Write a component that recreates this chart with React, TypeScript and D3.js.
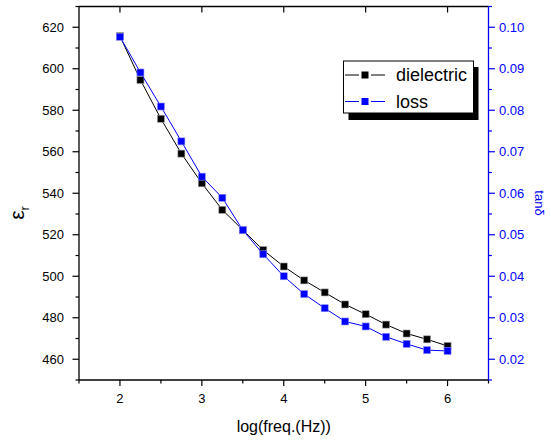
import React from "react";
import * as d3 from "d3";

const logFreq = [2, 2.25, 2.5, 2.75, 3, 3.25, 3.5, 3.75, 4, 4.25, 4.5, 4.75, 5, 5.25, 5.5, 5.75, 6];
const dielectric = [615.7, 594.6, 575.9, 559.1, 544.8, 532.0, 522.3, 512.6, 504.7, 498.0, 492.2, 486.4, 481.7, 476.7, 472.4, 469.6, 466.4];
const loss = [0.0977, 0.0891, 0.0809, 0.0725, 0.064, 0.0589, 0.0511, 0.0453, 0.04, 0.0357, 0.0323, 0.0291, 0.0279, 0.0254, 0.0237, 0.0222, 0.022];
const xTicks = [2, 3, 4, 5, 6];
const xMinor = [1.5, 2.5, 3.5, 4.5, 5.5, 6.5];
const yTicks = [460, 480, 500, 520, 540, 560, 580, 600, 620];
const yMinor = [450, 470, 490, 510, 530, 550, 570, 590, 610, 630];
const rTicks = [0.02, 0.03, 0.04, 0.05, 0.06, 0.07, 0.08, 0.09, 0.1];
const rMinor = [0.015, 0.025, 0.035, 0.045, 0.055, 0.065, 0.075, 0.085, 0.095, 0.105];
const legendItems = ["dielectric", "loss"];

const L = 79, R = 488.5, T = 6.5, B = 380;
const FONT = "'Liberation Sans', Arial, sans-serif";
const BLUE = "#0000ff";

export default function App() {
  const x = d3.scaleLinear().domain([1.5, 6.5]).range([L, R]);
  const y = d3.scaleLinear().domain([450, 630]).range([B, T]);
  const yr = d3.scaleLinear().domain([0.015, 0.105]).range([B, T]);
  const lineD = d3.line<number>().x((_, i) => x(logFreq[i])).y((d) => y(d))(dielectric) || "";
  const lineL = d3.line<number>().x((_, i) => x(logFreq[i])).y((d) => yr(d))(loss) || "";
  const ms = 7;
  const colors = ["#000", BLUE];
  return (
    <div style={{ position: "absolute", left: 0, top: 0 }}>
      <svg width={551} height={440} style={{ display: "block", fontFamily: FONT }}>
        <rect width={551} height={440} fill="#fff" />
        {/* frame */}
        <line x1={L} x2={R} y1={T} y2={T} stroke="#000" strokeWidth={1.3} />
        <line x1={L} x2={R} y1={B} y2={B} stroke="#000" strokeWidth={1.3} />
        <line x1={L} x2={L} y1={T} y2={B} stroke="#000" strokeWidth={1.3} />
        <line x1={R} x2={R} y1={T} y2={B} stroke={BLUE} strokeWidth={1.3} />
        {/* bottom axis */}
        {xTicks.map((t) => (
          <g key={"xt" + t}>
            <line x1={x(t)} x2={x(t)} y1={B} y2={B + 6} stroke="#000" strokeWidth={1.2} />
            <line x1={x(t)} x2={x(t)} y1={T} y2={T + 6} stroke="#000" strokeWidth={1.2} />
            <text x={x(t)} y={B + 23} fontSize={13} textAnchor="middle" fill="#000">{t}</text>
          </g>
        ))}
        {xMinor.map((t) => (
          <line key={"xm" + t} x1={x(t)} x2={x(t)} y1={B} y2={B + 3.5} stroke="#000" strokeWidth={1.2} />
        ))}
        <text x={(L + R) / 2} y={432} fontSize={16} textAnchor="middle" fill="#000">log(freq.(Hz))</text>
        {/* left axis */}
        {yTicks.map((t) => (
          <g key={"yt" + t}>
            <line x1={L - 6.5} x2={L} y1={y(t)} y2={y(t)} stroke="#000" strokeWidth={1.2} />
            <text x={64} y={y(t)} dy="0.35em" fontSize={13} textAnchor="end" fill="#000">{t}</text>
          </g>
        ))}
        {yMinor.map((t) => (
          <line key={"ym" + t} x1={L - 3.5} x2={L} y1={y(t)} y2={y(t)} stroke="#000" strokeWidth={1.2} />
        ))}
        <text transform="translate(24,213) rotate(-90)" fontSize={21} textAnchor="middle" fill="#000">
          ε<tspan fontSize={13} dy={5}>r</tspan>
        </text>
        {/* right axis */}
        {rTicks.map((t) => (
          <g key={"rt" + t}>
            <line x1={R} x2={R + 6.5} y1={yr(t)} y2={yr(t)} stroke={BLUE} strokeWidth={1.2} />
            <text x={499} y={yr(t)} dy="0.35em" fontSize={13} textAnchor="start" fill={BLUE}>{t.toFixed(2)}</text>
          </g>
        ))}
        {rMinor.map((t) => (
          <line key={"rm" + t} x1={R} x2={R + 3.5} y1={yr(t)} y2={yr(t)} stroke={BLUE} strokeWidth={1.2} />
        ))}
        <text transform="translate(535,203) rotate(90)" fontSize={13} textAnchor="middle" fill={BLUE}>tanδ</text>
        {/* series */}
        <path d={lineD} fill="none" stroke="#000" strokeWidth={1} />
        {dielectric.map((v, i) => (
          <rect key={"d" + i} x={x(logFreq[i]) - ms / 2} y={y(v) - ms / 2} width={ms} height={ms} fill="#000" stroke="#999" strokeWidth={0.6} />
        ))}
        <path d={lineL} fill="none" stroke={BLUE} strokeWidth={1} />
        {loss.map((v, i) => (
          <rect key={"l" + i} x={x(logFreq[i]) - ms / 2} y={yr(v) - ms / 2} width={ms} height={ms} fill={BLUE} stroke="#88f" strokeWidth={0.6} />
        ))}
        {/* legend */}
        <rect x={348.5} y={67} width={130} height={53} fill="#000" />
        <rect x={343.5} y={61} width={130} height={52} fill="#fff" stroke="#000" strokeWidth={1} />
        {legendItems.map((name, i) => {
          const cy = 75 + i * 26.5;
          return (
            <g key={name}>
              <line x1={345} x2={359} y1={cy} y2={cy} stroke={colors[i]} strokeWidth={1} />
              <line x1={371} x2={385} y1={cy} y2={cy} stroke={colors[i]} strokeWidth={1} />
              <rect x={365 - 3.5} y={cy - 3.5} width={7} height={7} fill={colors[i]} />
              <text x={396} y={cy} dy="0.36em" fontSize={18} fill="#000">{name}</text>
            </g>
          );
        })}
      </svg>
    </div>
  );
}
